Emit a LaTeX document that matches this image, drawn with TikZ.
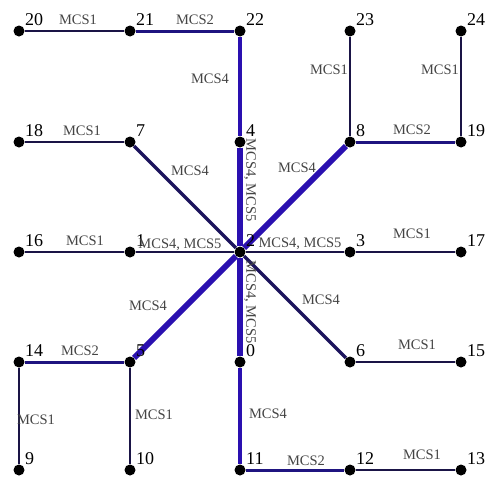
\documentclass[tikz,border=0pt]{standalone}
\usepackage{fontspec}
\setmainfont{Liberation Serif}
\usetikzlibrary{backgrounds}
\definecolor{lnavy}{HTML}{1A1446}
\definecolor{mnavy}{HTML}{1F1480}
\definecolor{tblue}{HTML}{2A10B0}
\definecolor{lbl}{HTML}{444444}
\tikzset{
  dot/.style={circle,fill=black,inner sep=0pt,minimum size=11pt},
  num/.style={anchor=base west,font=\fontsize{18}{18}\selectfont,inner sep=0pt},
  mcs/.style={font=\fontsize{14.5}{14.5}\selectfont,text=lbl,inner sep=0pt},
  w1/.style={draw=lnavy,line width=2pt},
  w2/.style={draw=mnavy,line width=3pt},
  wd/.style={draw=lnavy!60!mnavy,line width=3.5pt},
  wh/.style={draw=lnavy,line width=2.5pt},
  w4/.style={draw=tblue,line width=4.5pt},
  w5/.style={draw=tblue,line width=6pt},
}
\begin{document}
\begin{tikzpicture}[x=1pt,y=-1pt]
\useasboundingbox (0,0) rectangle (487,479);
% nodes
\foreach \n/\x/\y in {20/19/31,21/130/31,22/240/31,23/350/31,24/461/31,
  18/19/142,7/130/142,4/240/142,8/350/142,19/461/142,
  16/19/252,1/130/252,2/240/252,3/350/252,17/461/252,
  14/19/362,5/130/362,0/240/362,6/350/362,15/461/362,
  9/19/470,10/130/470,11/240/470,12/350/470,13/461/470}{
  \node[dot] (n\n) at (\x,\y) {};
  \node[num] (t\n) at (\x+6,\y-6) {\n};
}
\begin{scope}[on background layer]
\draw[w1] (n20) -- (n21);
\draw[w2] (n21) -- (n22);
\draw[w4] (n22) -- (n4);
\draw[w5] (n4) -- (n2);
\draw[w5] (n2) -- (n0);
\draw[w4] (n0) -- (n11);
\draw[w2] (n11) -- (n12);
\draw[w1] (n12) -- (n13);
\draw[w1] (n18) -- (n7);
\draw[wd] (n7) -- (n2);
\draw[w5] (n2) -- (n8);
\draw[w1] (n8) -- (n23);
\draw[w2] (n8) -- (n19);
\draw[w1] (n19) -- (n24);
\draw[w1] (n16) -- (n1);
\draw[wh] (n1) -- (n2);
\draw[wh] (n2) -- (n3);
\draw[w1] (n3) -- (n17);
\draw[w5] (n2) -- (n5);
\draw[w2] (n5) -- (n14);
\draw[w1] (n14) -- (n9);
\draw[w1] (n5) -- (n10);
\draw[wd] (n2) -- (n6);
\draw[w1] (n6) -- (n15);
\end{scope}
% edge labels
\node[mcs] (l1) at (78,20) {MCS1};
\node[mcs] (l2) at (195,20) {MCS2};
\node[mcs] (l3) at (210,79) {MCS4};
\node[mcs] (l4) at (82,131) {MCS1};
\node[mcs] (l5) at (329,70) {MCS1};
\node[mcs] (l6) at (440,70) {MCS1};
\node[mcs] (l7) at (412,130) {MCS2};
\node[mcs] (l8) at (190,171) {MCS4};
\node[mcs] (l9) at (297,168) {MCS4};
\node[mcs,rotate=-90] (l10) at (250,180) {MCS4, MCS5};
\node[mcs] (l11) at (180,245) {MCS4, MCS5};
\node[mcs] (l12) at (300,244) {MCS4, MCS5};
\node[mcs,rotate=-90] (l13) at (250,302) {MCS4, MCS5};
\node[mcs] (l14) at (148,306) {MCS4};
\node[mcs] (l15) at (321,300) {MCS4};
\node[mcs] (l16) at (268,414) {MCS4};
\node[mcs] (l17) at (306,461) {MCS2};
\node[mcs] (l18) at (422,455) {MCS1};
\node[mcs] (l19) at (85,241) {MCS1};
\node[mcs] (l20) at (412,234) {MCS1};
\node[mcs] (l21) at (80,351) {MCS2};
\node[mcs] (l22) at (417,345) {MCS1};
\node[mcs] (l23) at (36,420) {MCS1};
\node[mcs] (l24) at (154,415) {MCS1};
\end{tikzpicture}
\end{document}
